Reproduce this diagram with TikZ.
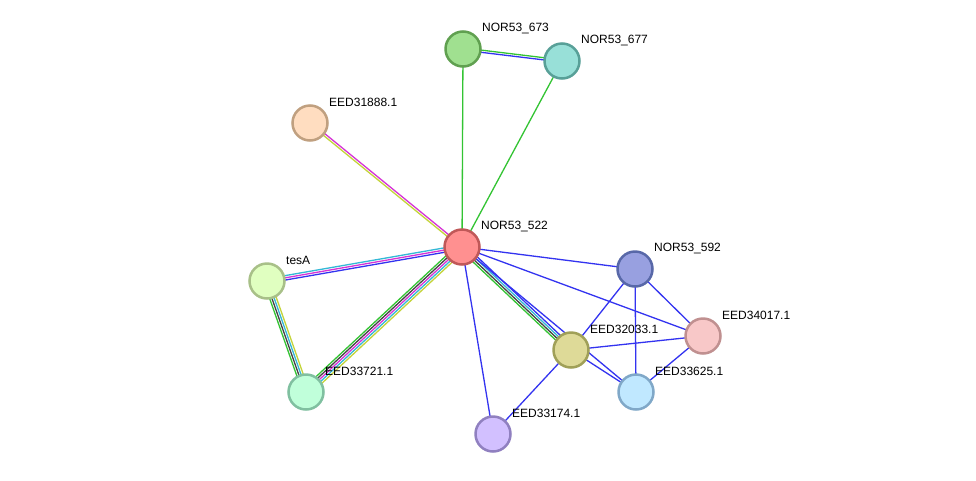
\documentclass[tikz,border=0pt]{standalone}
\usepackage{fontspec}
\setmainfont{Liberation Sans}
\usetikzlibrary{calc,backgrounds}
\definecolor{eGreen}{HTML}{33C433}
\definecolor{eBlue}{HTML}{3333F0}
\definecolor{eMag}{HTML}{D633D6}
\definecolor{eCyan}{HTML}{33B8D6}
\definecolor{eYel}{HTML}{C4D43A}
\definecolor{eBlk}{HTML}{444444}
\definecolor{fA}{HTML}{FF9090}\definecolor{bA}{HTML}{C05858}
\definecolor{fB}{HTML}{A0E090}\definecolor{bB}{HTML}{60A050}
\definecolor{fC}{HTML}{98E0D8}\definecolor{bC}{HTML}{58A098}
\definecolor{fD}{HTML}{FFDDC0}\definecolor{bD}{HTML}{C0A080}
\definecolor{fE}{HTML}{E0FFC0}\definecolor{bE}{HTML}{A8C088}
\definecolor{fF}{HTML}{C0FFDA}\definecolor{bF}{HTML}{80C0A0}
\definecolor{fG}{HTML}{D2C0FF}\definecolor{bG}{HTML}{9080C0}
\definecolor{fH}{HTML}{DEDA98}\definecolor{bH}{HTML}{A0A058}
\definecolor{fI}{HTML}{C0E8FF}\definecolor{bI}{HTML}{80A8C8}
\definecolor{fJ}{HTML}{F8C8C8}\definecolor{bJ}{HTML}{C09090}
\definecolor{fK}{HTML}{98A0E0}\definecolor{bK}{HTML}{5868A8}
\newcommand\pedge[4]{\draw[edgeline,#4] ($(#1.center)!#3!90:(#2.center)$) -- ($(#2.center)!#3!-90:(#1.center)$);}
\tikzset{
  prot/.style 2 args={circle, minimum size=35pt, inner sep=0pt, fill=#1, draw=#2, line width=2.5pt},
  lab/.style={anchor=west, font=\fontsize{12}{14}\selectfont, text=black, inner sep=1pt},
  edgeline/.style={line width=1.3pt}
}
\begin{document}
\begin{tikzpicture}[x=1pt,y=-1pt]
\useasboundingbox (0,0) rectangle (976,480);
% nodes
\node[prot={fA}{bA}] (n522) at (462,247) {};
\node[prot={fB}{bB}] (n673) at (463,49) {};
\node[prot={fC}{bC}] (n677) at (562,61) {};
\node[prot={fD}{bD}] (n31888) at (310,123) {};
\node[prot={fE}{bE}] (ntesA) at (267,281) {};
\node[prot={fF}{bF}] (n33721) at (306,392) {};
\node[prot={fG}{bG}] (n33174) at (493,434) {};
\node[prot={fH}{bH}] (n32033) at (571,350) {};
\node[prot={fI}{bI}] (n33625) at (636,392) {};
\node[prot={fJ}{bJ}] (n34017) at (703,336) {};
\node[prot={fK}{bK}] (n592) at (635,269) {};
% labels
\node[lab] (l522) at ($(n522)+(18,-21)$) {NOR53\_522};
\node[lab] (l673) at ($(n673)+(18,-21)$) {NOR53\_673};
\node[lab] (l677) at ($(n677)+(18,-21)$) {NOR53\_677};
\node[lab] (l31888) at ($(n31888)+(18,-21)$) {EED31888.1};
\node[lab] (ltesA) at ($(ntesA)+(18,-21)$) {tesA};
\node[lab] (l33721) at ($(n33721)+(18,-21)$) {EED33721.1};
\node[lab] (l33174) at ($(n33174)+(18,-21)$) {EED33174.1};
\node[lab] (l32033) at ($(n32033)+(18,-21)$) {EED32033.1};
\node[lab] (l33625) at ($(n33625)+(18,-21)$) {EED33625.1};
\node[lab] (l34017) at ($(n34017)+(18,-21)$) {EED34017.1};
\node[lab] (l592) at ($(n592)+(18,-21)$) {NOR53\_592};
% edges
\begin{pgfonlayer}{background}
\fill[white] (0,0) rectangle (976,480);
\pedge{n522}{n673}{0pt}{eGreen}
\pedge{n522}{n677}{0pt}{eGreen}
\pedge{n673}{n677}{1.1pt}{eGreen}
\pedge{n673}{n677}{-1.1pt}{eBlue}
\pedge{n522}{n31888}{-1.1pt}{eMag}
\pedge{n522}{n31888}{1.1pt}{eYel}
\pedge{n522}{ntesA}{-2.2pt}{eCyan}
\pedge{n522}{ntesA}{0pt}{eMag}
\pedge{n522}{ntesA}{2.2pt}{eBlue}
\pedge{n522}{n33721}{-4.4pt}{eGreen}
\pedge{n522}{n33721}{-2.2pt}{eBlk}
\pedge{n522}{n33721}{0pt}{eMag}
\pedge{n522}{n33721}{2.2pt}{eCyan}
\pedge{n522}{n33721}{4.4pt}{eYel}
\pedge{ntesA}{n33721}{-3.3pt}{eGreen}
\pedge{ntesA}{n33721}{-1.1pt}{eBlk}
\pedge{ntesA}{n33721}{1.1pt}{eCyan}
\pedge{ntesA}{n33721}{3.3pt}{eYel}
\pedge{n522}{n32033}{-3.3pt}{eGreen}
\pedge{n522}{n32033}{-1.1pt}{eBlk}
\pedge{n522}{n32033}{1.1pt}{eCyan}
\pedge{n522}{n32033}{3.3pt}{eBlue}
\pedge{n522}{n33174}{0pt}{eBlue}
\pedge{n522}{n592}{0pt}{eBlue}
\pedge{n522}{n34017}{0pt}{eBlue}
\pedge{n522}{n33625}{0pt}{eBlue}
\pedge{n592}{n32033}{0pt}{eBlue}
\pedge{n592}{n33625}{0pt}{eBlue}
\pedge{n592}{n34017}{0pt}{eBlue}
\pedge{n32033}{n34017}{0pt}{eBlue}
\pedge{n32033}{n33625}{0pt}{eBlue}
\pedge{n33625}{n34017}{0pt}{eBlue}
\pedge{n32033}{n33174}{0pt}{eBlue}
\end{pgfonlayer}
\end{tikzpicture}
\end{document}
